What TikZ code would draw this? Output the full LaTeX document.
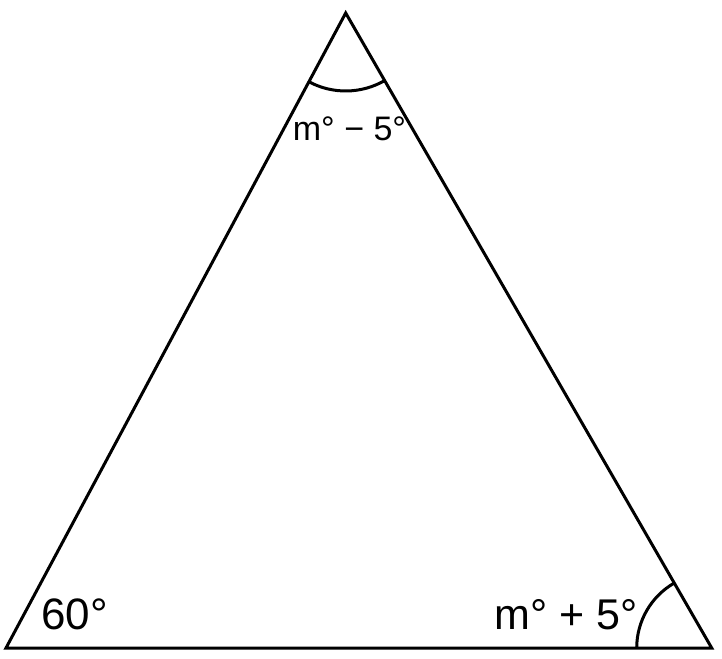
\documentclass[tikz,border=0pt]{standalone}
\usepackage{fontspec}
\setmainfont{Liberation Sans}
\usepackage{tikz}

\begin{document}
\begin{tikzpicture}[x=0.5pt,y=0.5pt]
	\useasboundingbox (0,0) rectangle (722,658);
	% corners
	\coordinate (top) at (345.7,645);
	\coordinate (left) at (6,10);
	\coordinate (right) at (711.7,10);
	% triangle
	\draw [black, line width=1.5pt, line join=miter] (left) -- (top) -- (right) -- cycle;
	% angle marks
	\draw [black, line width=1.5pt] (top) ++(241.9:39pt) arc [start angle=241.9, end angle=300, radius=39pt];
	\draw [black, line width=1.5pt] (right) ++(180:37.5pt) arc [start angle=180, end angle=120, radius=37.5pt];
	% labels
	\node (lbltop) at (349.5,529.5) {\fontsize{17}{20}\selectfont m° − 5°};
	\node (lblleft) at (74.5,44) {\fontsize{22}{26}\selectfont 60°};
	\node (lblright) at (566.5,43) {\fontsize{21.5}{25}\selectfont m° + 5°};
\end{tikzpicture}
\end{document}
